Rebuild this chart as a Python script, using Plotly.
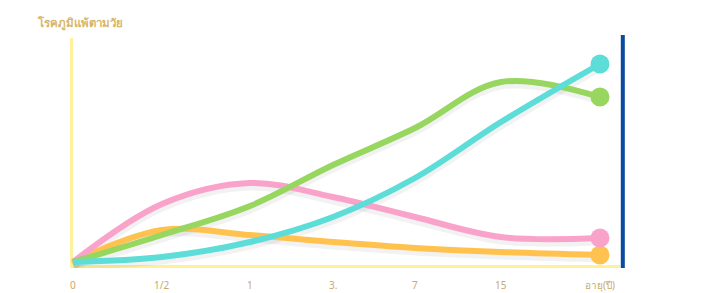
import plotly.graph_objects as go

categories = ["0", "1/2", "1", "3.", "7", "15", "อายุ(ปี)"]
tick_positions = [0, 1.013, 2.015, 2.96, 3.894, 4.873, 6]
pink = [0, 58, 79, 65, 45, 25, 24]
orange = [0, 32, 27, 20, 14, 10, 7]
green = [0, 27, 56, 97, 134, 180, 165]
cyan = [0, 5, 20, 45, 84, 140, 198]
title_text = "โรคภูมิแพ้ตามวัย"

fig = go.Figure()

series = [
    (orange, "#FFC24F"),
    (pink, "#F9A2CA"),
    (green, "#97D65F"),
    (cyan, "#5DDDD7"),
]
# soft shadows
for vals, col in series:
    fig.add_trace(go.Scatter(
        x=tick_positions, y=[v - 3 for v in vals], mode="lines",
        line=dict(color="rgba(0,0,0,0.05)", width=9, shape="spline", smoothing=1.0),
        hoverinfo="skip", showlegend=False))
for vals, col in series:
    fig.add_trace(go.Scatter(
        x=tick_positions, y=vals, mode="lines",
        line=dict(color=col, width=6, shape="spline", smoothing=1.0),
        hoverinfo="skip", showlegend=False))
    fig.add_trace(go.Scatter(
        x=[tick_positions[-1]], y=[vals[-1]], mode="markers",
        marker=dict(color=col, size=19), hoverinfo="skip", showlegend=False))

label_col = "#C9A96A"
for xv, t in zip(tick_positions, categories):
    fig.add_annotation(x=xv, y=-6, xref="x", yref="y", text=t, showarrow=False,
                       yanchor="top", yshift=-8,
                       font=dict(size=10, color=label_col, family="Noto Sans, sans-serif"))

fig.add_annotation(x=(35 - 70) / 555, y=1 + (35 - 23) / 233, xref="paper", yref="paper",
                   text="<b>" + title_text + "</b>",
                   showarrow=False, xanchor="left", yanchor="middle",
                   font=dict(size=11.5, color="#D6B66C", family="Noto Sans, sans-serif"))

# axes lines
fig.add_shape(type="line", xref="x", yref="y", x0=-0.023, x1=-0.023, y0=-6, y1=224,
              line=dict(color="#FFF09A", width=4), layer="below")
fig.add_shape(type="line", xref="x", yref="y", x0=-0.034, x1=6.23, y0=-5, y1=-5,
              line=dict(color="#FFF09A", width=4), layer="below")
# blue right line
fig.add_shape(type="line", xref="x", yref="y", x0=6.26, x1=6.26, y0=-6, y1=227,
              line=dict(color="#0A4AA0", width=4), layer="above")

fig.update_layout(
    width=716, height=293,
    margin=dict(l=70, r=91, t=35, b=25),
    paper_bgcolor="white", plot_bgcolor="white",
    xaxis=dict(range=[-0.034, 6.285], showgrid=False, zeroline=False, showticklabels=False,
               showline=False, fixedrange=True),
    yaxis=dict(range=[-6, 227], showgrid=False, zeroline=False, showticklabels=False,
               showline=False, fixedrange=True),
)

fig.write_html("out.html")
